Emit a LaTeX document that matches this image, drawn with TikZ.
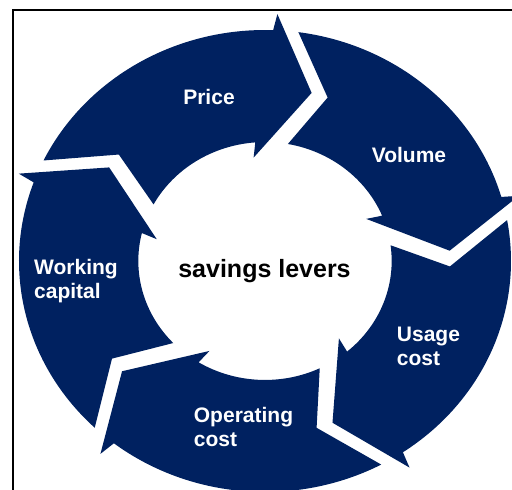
\documentclass[tikz,border=0pt]{standalone}
\usepackage{fontspec}
\setmainfont{Liberation Sans}
\usepackage{xcolor}
\definecolor{leverblue}{RGB}{0,33,96}

\begin{document}
\begin{tikzpicture}[x=1pt,y=1pt,
  lever/.style={fill=leverblue,draw=none},
  leverlabel/.style={text=white,font=\fontsize{21}{24}\selectfont\bfseries,
    align=left,inner sep=0pt}]

\useasboundingbox (-265,-229) rectangle (247,261);
\clip (-265,-229) rectangle (247,261);
\draw[line width=1.7pt] (-252,-300) rectangle (300,251);

% ring of five arrows, tip angles 72 apart
\begin{scope}[x=246pt,y=231pt]
\foreach \a in {75.4,3.4,-68.6,-140.6,-212.6}{
  \fill[lever] ({\a+78.8}:1)
    arc[start angle=\a+78.8, end angle=\a+12.7, x radius=1, y radius=1]
    -- ({\a+11.9}:1.07) -- (\a:0.752) -- ({\a+20.5}:0.45) -- ({\a+19}:0.515)
    arc[start angle=\a+19, end angle=\a+76.2, x radius=0.515, y radius=0.515]
    -- ({\a+66.8}:0.752) -- cycle;
}
\end{scope}

\node[leverlabel] (price) at (-56,164.5) {Price};
\node[leverlabel] (volume) at (144,106) {Volume};
\node[leverlabel] (usage) at (163.5,-85) {Usage\\cost};
\node[leverlabel] (operating) at (-21.5,-165.5) {Operating\\cost};
\node[leverlabel] (working) at (-189,-20.5) {Working\\capital};

\node[font=\fontsize{25}{30}\selectfont\bfseries,inner sep=0pt] (levers) at (-0.5,-10.5) {savings levers};

\end{tikzpicture}
\end{document}
